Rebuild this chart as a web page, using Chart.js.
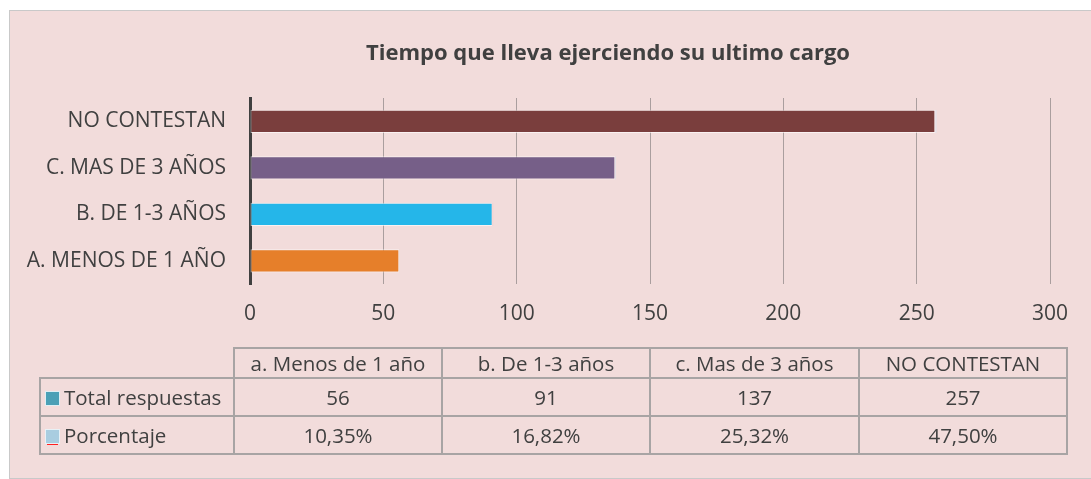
<!DOCTYPE html>
<html>
<head>
<meta charset="utf-8">
<script src="https://cdn.jsdelivr.net/npm/chart.js@4.4.0/dist/chart.umd.min.js"></script>
<style>
    html, body { margin: 0; padding: 0; background: #ffffff; }
    #frame {
        position: absolute; left: 9px; top: 10px; width: 1090px; height: 469px;
        background: #f2dcdb; border: 1px solid #c9c9c9; box-sizing: border-box;
        font-family: "Open Sans", sans-serif; color: #404040;
    }
    #chartBox { position: absolute; left: 0; top: 0; width: 1082px; height: 469px; }
    #chartTitle {
        position: absolute; left: 598px; top: 26px; transform: translateX(-50%);
        font-size: 22px; font-weight: bold; line-height: 28px; white-space: nowrap;
    }
    #dataTable {
        position: absolute; left: 29px; top: 336px; border-collapse: collapse;
        font-size: 20.5px; table-layout: fixed;
    }
    #dataTable td { border: 2px solid #a8a4a4; text-align: center; padding: 0; white-space: nowrap; }
    #dataTable td.blank { border: none; border-bottom: 2px solid #a8a4a4; border-right: 2px solid #a8a4a4; }
    #dataTable td.rowHead { text-align: left; padding-left: 4px; }
    .key { display: inline-block; width: 13px; height: 13px; margin-right: 4px; vertical-align: -1px; }
</style>
</head>
<body>
<div id="frame">
    <div id="chartBox"><canvas id="timeChart"></canvas></div>
    <div id="chartTitle">Tiempo que lleva ejerciendo su ultimo cargo</div>
    <table id="dataTable"></table>
</div>
<script>
// --- Data ---
const CATEGORIES = ['a. Menos de 1 año', 'b. De 1-3 años', 'c. Mas de 3 años', 'NO CONTESTAN'];
const TOTALS = [56, 91, 137, 257];
const PERCENTS = [10.35, 16.82, 25.32, 47.50];
const X_TICKS = [0, 50, 100, 150, 200, 250, 300];

const BAR_COLORS = ['#e67f2a', '#25b6e9', '#765f88', '#7a3e3d'];
const PCT_COLORS = ['#a9cde0', '#ff2020', '#c6dbee', '#dbe6f2'];
const FONT = '"Open Sans", sans-serif';
const TEXT = '#404040';

// --- Chart ---
new Chart(document.getElementById('timeChart'), {
    type: 'bar',
    data: {
        labels: CATEGORIES,
        datasets: [
            {
                label: 'Total respuestas',
                data: TOTALS,
                backgroundColor: BAR_COLORS,
                borderColor: 'rgba(255,255,255,0.6)',
                borderWidth: 1,
                borderSkipped: false
            },
            {
                label: 'Porcentaje',
                data: PERCENTS.map(p => p / 100),
                backgroundColor: PCT_COLORS,
                borderColor: PCT_COLORS,
                borderWidth: { right: 2 },
                borderSkipped: false
            }
        ]
    },
    options: {
        indexAxis: 'y',
        responsive: true,
        maintainAspectRatio: false,
        animation: false,
        barPercentage: 0.5,
        categoryPercentage: 1,
        layout: { padding: { top: 87, right: 42, bottom: 0, left: 0 } },
        plugins: {
            legend: { display: false },
            tooltip: { enabled: false },
            title: { display: false }
        },
        scales: {
            x: {
                stacked: true,
                min: 0,
                max: 300,
                afterBuildTicks: scale => { scale.ticks = X_TICKS.map(v => ({ value: v })); },
                afterFit: scale => { scale.height = 196; },
                grid: { color: '#aa9e9e', lineWidth: 1, drawTicks: false },
                border: { display: false },
                ticks: { color: TEXT, padding: 17, font: { family: FONT, size: 21 } }
            },
            y: {
                stacked: true,
                reverse: true,
                afterFit: scale => { scale.width = 240; },
                grid: { display: false, drawTicks: false },
                border: { display: true, color: '#404040', width: 3 },
                ticks: {
                    color: TEXT,
                    padding: 24,
                    font: { family: FONT, size: 21 },
                    callback: function (value) { return this.getLabelForValue(value).toUpperCase(); }
                }
            }
        }
    }
});

// --- Data table ---
const table = document.getElementById('dataTable');
const colWidths = [194, 208, 208, 209, 208];
const colgroup = document.createElement('colgroup');
colWidths.forEach(w => {
    const col = document.createElement('col');
    col.style.width = w + 'px';
    colgroup.appendChild(col);
});
table.appendChild(colgroup);

function addRow(height, cells, head) {
    const tr = document.createElement('tr');
    tr.style.height = height + 'px';
    cells.forEach((c, i) => {
        const td = document.createElement('td');
        if (i === 0) {
            td.className = head ? 'blank' : 'rowHead';
            if (!head) td.innerHTML = c;
        } else {
            td.textContent = c;
        }
        tr.appendChild(td);
    });
    table.appendChild(tr);
}

addRow(30, [''].concat(CATEGORIES), true);
addRow(38, ['<span class="key" style="background:#4ba0b6;border:1px solid #dfeef3"></span>Total respuestas']
    .concat(TOTALS.map(String)), false);
addRow(38, ['<span class="key" style="background:#a9cde0;border:1px solid #e8f1f6;box-shadow:-2px 5px 0 -4px #ff2020, 2px 5px 0 -4px #ff2020"></span>Porcentaje']
    .concat(PERCENTS.map(p => p.toFixed(2).replace('.', ',') + '%')), false);
</script>
</body>
</html>
